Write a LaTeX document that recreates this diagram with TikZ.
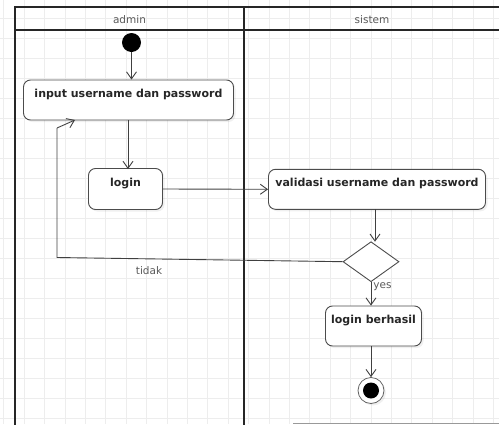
\documentclass[tikz,border=0pt]{standalone}
\usepackage{fontspec}
\setmainfont{DejaVu Sans}
\usetikzlibrary{shapes.geometric,arrows.meta,positioning,shadows}

\begin{document}
\begin{tikzpicture}[x=1pt,y=-1pt]
	\tikzstyle{every node}=[font=\fontsize{10.5}{12}\selectfont, text=black!65]
	\tikzstyle{activity}=[draw=black!70, fill=white, rounded corners=7pt, line width=0.9pt,
	drop shadow={opacity=0.12, shadow xshift=2pt, shadow yshift=-2pt}]
	\tikzstyle{acttext}=[anchor=north, font=\bfseries\fontsize{11}{13}\selectfont, text=black!85, inner sep=0pt, yshift=-9.5pt]
	\tikzstyle{flow}=[draw=black!75, line width=0.9pt, -{Straight Barb[length=7pt,width=10pt]}]
	\tikzstyle{lane}=[draw=black!85, line width=1.6pt]

	\useasboundingbox (0,0) rectangle (499,424);
	% background grid
	\foreach \gx in {3.5,23.9,...,499} \draw[black!7] (\gx,0) -- (\gx,424);
	\foreach \gy in {18,38,...,424} \draw[black!7] (0,\gy) -- (499,\gy);

	% swimlanes
	\draw[lane] (15,430) -- (15,7) -- (505,7);
	\draw[lane] (15,30) -- (505,30);
	\draw[lane] (244,7) -- (244,430);
	\draw[black!40, line width=1pt] (293,423) -- (505,423);
	\node (admin) at (129.5,19.5) {admin};
	\node (sistem) at (372,19.5) {sistem};

	% activities, the text sits at the top of the box
	\node[circle, fill=black, minimum size=19pt, inner sep=0pt] (start) at (131.5,42.5) {};
	\node[activity, minimum width=210pt, minimum height=40pt,
	label={[acttext]north:input username dan password}] (input) at (128.5,100) {};
	\node[activity, minimum width=74pt, minimum height=41pt,
	label={[acttext]north:login}] (login) at (125.5,189) {};
	\node[activity, minimum width=217pt, minimum height=40pt,
	label={[acttext]north:validasi username dan password}] (val) at (377,189.3) {};
	\node[diamond, draw=black!70, fill=white, line width=0.9pt, inner sep=0pt,
	minimum width=56pt, minimum height=40pt] (dec) at (371,261.7) {};
	\node[activity, minimum width=96pt, minimum height=40pt,
	label={[acttext]north:login berhasil}] (done) at (373.5,326) {};
	\node[circle, draw=black!60, fill=white, line width=0.8pt, minimum size=26pt, inner sep=0pt,
	drop shadow={opacity=0.12, shadow xshift=2pt, shadow yshift=-2pt}] (stop) at (371,390.5) {};
	\node[circle, fill=black, minimum size=16pt, inner sep=0pt] (stopdot) at (stop.center) {};

	% flows
	\coordinate (back1) at (57,257.5);
	\coordinate (back2) at (57,128);
	\coordinate (back3) at (75,120);
	\draw[flow] (start) -- (start |- input.north);
	\draw[flow] (128,120) -- (128,169);
	\draw[flow] (login.east) -- (val.west);
	\draw[flow] (375,209.3) -- (375,241.7);
	\draw[flow, -] (dec.west) -- (back1) -- (back2);
	\draw[flow] (back2) -- (back3);
	\draw[flow] (dec.south) -- (dec.south |- done.north);
	\draw[flow] (done.south -| stop.north) -- (stop.north);
	\node (tidak) at (149,271) {tidak};
	\node (yes) at (382.5,287) {yes};
\end{tikzpicture}
\end{document}
